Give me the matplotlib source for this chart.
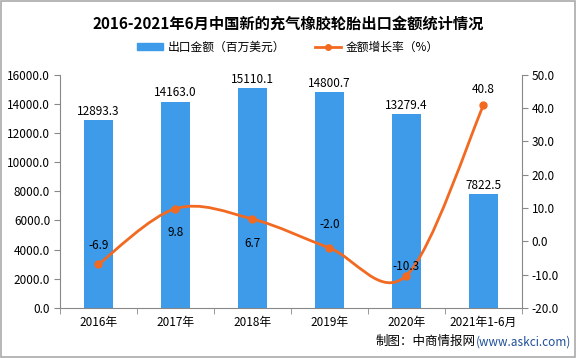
import matplotlib
matplotlib.use("Agg")
import matplotlib.pyplot as plt
from matplotlib.path import Path
from matplotlib.patches import PathPatch, Rectangle
from matplotlib.lines import Line2D
from matplotlib.patches import Patch
import numpy as np

plt.rcParams['font.family'] = ['Noto Sans CJK SC', 'DejaVu Sans']

categories = ["2016年", "2017年", "2018年", "2019年", "2020年", "2021年1-6月"]
export_value = [12893.3, 14163.0, 15110.1, 14800.7, 13279.4, 7822.5]
growth_rate = [-6.9, 9.8, 6.7, -2.0, -10.3, 40.8]
left_ticks = [0, 2000, 4000, 6000, 8000, 10000, 12000, 14000, 16000]
right_ticks = [-20, -10, 0, 10, 20, 30, 40, 50]

bar_color = "#3D9BEA"
line_color = "#F26A21"

fig = plt.figure(figsize=(5.76, 3.58), dpi=100)
ax = fig.add_axes([0.104, 0.14, 0.802, 0.651])
x = np.arange(len(categories))
ax.bar(x, export_value, width=0.37, color=bar_color, zorder=2)
ax.set_xlim(-0.5, len(categories) - 0.5)
ax.set_ylim(0, 16000)
ax.set_yticks(left_ticks)
ax.set_yticklabels([f"{v:.1f}" for v in left_ticks], fontsize=8.5)
ax.set_xticks(x)
ax.set_xticklabels(categories, fontsize=8.5)
ax.set_xticks(np.arange(-0.5, len(categories), 1), minor=True)
ax.tick_params(axis='x', which='major', length=0, pad=6)
ax.tick_params(axis='x', which='minor', length=4, color='#888888', direction='out')
ax.tick_params(axis='y', length=4, color='#888888', direction='out', pad=3)
for s in ['top', 'right']:
    ax.spines[s].set_visible(False)
for s in ['left', 'bottom']:
    ax.spines[s].set_color('#888888')

for xi, v in zip(x, export_value):
    ax.text(xi, v + 150, f"{v:.1f}", ha='center', va='bottom', fontsize=8.5, zorder=5)

ax2 = ax.twinx()
ax2.set_ylim(-20, 50)
ax2.set_yticks(right_ticks)
ax2.set_yticklabels([f"{v:.1f}" for v in right_ticks], fontsize=8.5)
ax2.tick_params(axis='y', length=4, color='#888888', direction='out', pad=3)
for s in ['top', 'left', 'bottom']:
    ax2.spines[s].set_visible(False)
ax2.spines['right'].set_color('#888888')

# smooth curve (Catmull-Rom rendered as cubic Bezier path)
pts = np.column_stack([x, growth_rate]).astype(float)
verts = [tuple(pts[0])]
codes = [Path.MOVETO]
n = len(pts)
t = 0.5
for i in range(n - 1):
    p0 = pts[i - 1] if i > 0 else pts[i]
    p1 = pts[i]
    p2 = pts[i + 1]
    p3 = pts[i + 2] if i + 2 < n else pts[i + 1]
    c1 = p1 + (p2 - p0) * t / 3
    c2 = p2 - (p3 - p1) * t / 3
    verts += [tuple(c1), tuple(c2), tuple(p2)]
    codes += [Path.CURVE4] * 3
ax2.add_patch(PathPatch(Path(verts, codes), facecolor='none', edgecolor=line_color, lw=2, zorder=3))
ax2.plot(x, growth_rate, 'o', color=line_color, ms=5, zorder=4)

offsets = [9, -22, -22, 12, 2, 7]
for xi, v, off in zip(x, growth_rate, offsets):
    ax2.annotate(f"{v:.1f}", (xi, v), xytext=(0, off), textcoords='offset points',
                 ha='center', va='bottom', fontsize=8.5, zorder=5)

fig.text(0.5, 0.935, "2016-2021年6月中国新的充气橡胶轮胎出口金额统计情况", ha='center', va='center',
         fontsize=11, fontweight='bold')

handles = [Patch(color=bar_color), Line2D([0], [0], color=line_color, lw=2, marker='o', ms=4)]
fig.legend(handles, ["出口金额（百万美元）", "金额增长率（%）"], loc='center', bbox_to_anchor=(0.5, 0.868),
           ncol=2, frameon=False, fontsize=8.5, handlelength=2.2, handleheight=0.5, columnspacing=2.5,
           handletextpad=0.4)

t1 = fig.text(0.826, 0.045, "(www.askci.com)", ha='left', va='center', fontsize=8.5, color='#1F4E9A')
fig.text(0.826, 0.045, "制图：中商情报网", ha='right', va='center', fontsize=9)

fig.add_artist(Rectangle((0.002, 0.003), 0.996, 0.994, transform=fig.transFigure, fill=False,
                         edgecolor='#AAAAAA', lw=1.2))

fig.savefig("out.png", dpi=100)
